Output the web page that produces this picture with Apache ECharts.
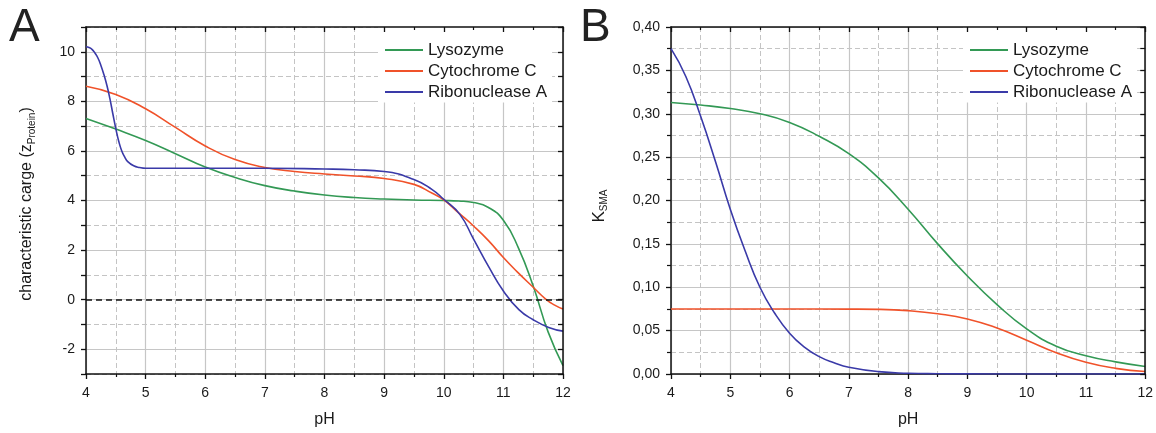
<!DOCTYPE html>
<html>
<head>
<meta charset="utf-8">
<script src="https://cdn.jsdelivr.net/npm/echarts@6/dist/echarts.min.js"></script>
<style>
html,body{margin:0;padding:0;background:#fff;}
#c{width:1156px;height:433px;}
</style>
</head>
<body>
<div id="c"></div>
<script>
// ---------- DATA ----------
const seriesNames = ['Lysozyme', 'Cytochrome C', 'Ribonuclease A'];
const colors = ['#339955', '#f0522a', '#3a3aa8'];

// Panel A: characteristic charge vs pH
const phA_lys = [4, 4.5, 5, 5.5, 6, 6.5, 7, 7.5, 8, 8.5, 9, 9.5, 10, 10.25, 10.5, 10.75, 11, 11.25, 11.5, 11.75, 12];
const zA_lys  = [7.31, 6.88, 6.42, 5.89, 5.35, 4.93, 4.6, 4.38, 4.22, 4.12, 4.06, 4.02, 4.0, 3.98, 3.92, 3.72, 3.2, 2.1, 0.55, -1.3, -2.66];

const phA_cyt = [4, 4.5, 5, 5.5, 6, 6.5, 7, 7.5, 8, 8.5, 9, 9.5, 9.8, 10, 10.25, 10.5, 10.75, 11, 11.25, 11.5, 11.72, 11.86, 12];
const zA_cyt  = [8.61, 8.28, 7.7, 6.95, 6.2, 5.65, 5.33, 5.17, 5.07, 4.99, 4.89, 4.65, 4.3, 4.03, 3.5, 2.97, 2.38, 1.7, 1.08, 0.5, 0.0, -0.22, -0.38];

const phA_rib = [4, 4.05, 4.1, 4.15, 4.2, 4.25, 4.3, 4.35, 4.4, 4.45, 4.5, 4.55, 4.6, 4.65, 4.7, 4.8, 4.9, 5, 6, 7, 8, 8.5, 9, 9.5, 9.8, 10, 10.27, 10.5, 10.76, 11, 11.26, 11.5, 11.76, 12];
const zA_rib  = [10.2, 10.17, 10.1, 9.95, 9.75, 9.45, 9.08, 8.65, 8.12, 7.5, 6.9, 6.38, 6.0, 5.75, 5.57, 5.4, 5.33, 5.3, 5.3, 5.3, 5.27, 5.24, 5.17, 4.85, 4.45, 4.05, 3.44, 2.44, 1.3, 0.35, -0.4, -0.81, -1.12, -1.27];

// Panel B: K_SMA vs pH
const phB_lys = [4, 4.5, 5, 5.5, 6, 6.5, 7, 7.5, 8, 8.5, 9, 9.5, 10, 10.5, 11, 11.5, 12];
const kB_lys  = [0.313, 0.310, 0.306, 0.300, 0.290, 0.274, 0.254, 0.226, 0.190, 0.150, 0.113, 0.080, 0.052, 0.032, 0.021, 0.014, 0.0087];

const phB_cyt = [4, 5, 6, 7, 7.5, 8, 8.5, 9, 9.5, 10, 10.5, 11, 11.5, 12];
const kB_cyt  = [0.075, 0.075, 0.075, 0.0748, 0.0745, 0.073, 0.0695, 0.0635, 0.053, 0.039, 0.0246, 0.0135, 0.0065, 0.0028];

const phB_rib = [4, 4.25, 4.5, 4.75, 5, 5.25, 5.5, 5.75, 6, 6.25, 6.5, 6.75, 7, 7.5, 8, 8.5, 9, 10, 11, 12];
const kB_rib  = [0.375, 0.343, 0.297, 0.245, 0.19, 0.142, 0.10, 0.07, 0.047, 0.031, 0.020, 0.013, 0.0078, 0.0027, 0.0009, 0.0003, 0.0001, 0, 0, 0];

// ticks
const xTickMin = 4, xTickMax = 12;
const yA_min = -3, yA_max = 11;
const yB_min = 0, yB_max = 0.4;

// ---------- CHART ----------
const FONT = 'Liberation Sans, Arial, sans-serif';
const zip = (a, b) => a.map((v, i) => [v, b[i]]);
const chart = echarts.init(document.getElementById('c'), null, {renderer: 'canvas'});

const majorGrid = '#c6c6c6';
const minorGrid = '#c4c4c4';
const axisBlack = '#111';

function xMain(grid) {
  return {
    type: 'value', gridIndex: grid, min: xTickMin, max: xTickMax, interval: 1, position: 'bottom',
    axisLine: {show: true, onZero: false, lineStyle: {color: axisBlack, width: 1.5}},
    axisTick: {show: true, length: 5, lineStyle: {color: axisBlack, width: 1.3}},
    minorTick: {show: true, splitNumber: 2, length: 3, lineStyle: {color: axisBlack, width: 1.2}},
    axisLabel: {fontSize: 14, margin: 12, color: '#1a1a1a', fontFamily: FONT},
    splitLine: {show: true, lineStyle: {color: majorGrid, width: 1.2}},
    minorSplitLine: {show: true, lineStyle: {color: minorGrid, width: 1, type: [5, 3]}},
    name: 'pH', nameLocation: 'middle', nameGap: 38,
    nameTextStyle: {fontSize: 16, color: '#1a1a1a', fontFamily: FONT}
  };
}
function xMirror(grid) {
  return {
    type: 'value', gridIndex: grid, min: xTickMin, max: xTickMax, interval: 1, position: 'top', z: 10,
    axisLine: {show: true, onZero: false, lineStyle: {color: axisBlack, width: 1.5}},
    axisTick: {show: true, inside: true, length: 5, lineStyle: {color: axisBlack, width: 1.3}},
    minorTick: {show: true, splitNumber: 2, length: 3, lineStyle: {color: axisBlack, width: 1.2}},
    axisLabel: {show: false}, splitLine: {show: false}
  };
}

const option = {
  animation: false,
  backgroundColor: '#fff',
  grid: [
    {left: 86, top: 27, width: 477, height: 351},
    {left: 671, top: 27, width: 477, height: 351}
  ],
  xAxis: [xMain(0), xMirror(0), xMain(1), xMirror(1)],
  yAxis: [
    { // 0: panel A main (solid at even)
      type: 'value', gridIndex: 0, min: yA_min, max: yA_max, interval: 1, position: 'left',
      axisLine: {show: true, onZero: false, lineStyle: {color: axisBlack, width: 1.5}},
      axisTick: {show: true, length: 5, lineStyle: {color: axisBlack, width: 1.3}},
      axisLabel: {fontSize: 14, margin: 11, color: '#1a1a1a', fontFamily: FONT,
        formatter: v => (Math.abs(Math.round(v)) % 2 === 0 ? String(Math.round(v)) : '')},
      splitLine: {show: true, lineStyle: {color: ['rgba(0,0,0,0)', majorGrid], width: 1.2}}
    },
    { // 1: panel A dashed at odd
      type: 'value', gridIndex: 0, min: yA_min, max: yA_max, interval: 1, position: 'left',
      axisLine: {show: false}, axisTick: {show: false}, axisLabel: {show: false},
      splitLine: {show: true, lineStyle: {color: [minorGrid, 'rgba(0,0,0,0)'], width: 1, type: [5, 3]}}
    },
    { // 2: panel A right mirror
      type: 'value', gridIndex: 0, min: yA_min, max: yA_max, interval: 1, position: 'right', z: 10,
      axisLine: {show: true, onZero: false, lineStyle: {color: axisBlack, width: 1.5}},
      axisTick: {show: true, inside: true, length: 5, lineStyle: {color: axisBlack, width: 1.3}},
      axisLabel: {show: false}, splitLine: {show: false}
    },
    { // 3: panel B main
      type: 'value', gridIndex: 1, min: yB_min, max: yB_max, interval: 0.05, position: 'left',
      axisLine: {show: true, onZero: false, lineStyle: {color: axisBlack, width: 1.5}},
      axisTick: {show: true, length: 5, lineStyle: {color: axisBlack, width: 1.3}},
      minorTick: {show: true, splitNumber: 2, length: 4, lineStyle: {color: axisBlack, width: 1.2}},
      axisLabel: {fontSize: 14, margin: 11, color: '#1a1a1a', fontFamily: FONT,
        formatter: v => v.toFixed(2).replace('.', ',')},
      splitLine: {show: true, lineStyle: {color: majorGrid, width: 1.2}},
      minorSplitLine: {show: true, lineStyle: {color: minorGrid, width: 1, type: [5, 3]}}
    },
    { // 4: panel B right mirror
      type: 'value', gridIndex: 1, min: yB_min, max: yB_max, interval: 0.05, position: 'right', z: 10,
      axisLine: {show: true, onZero: false, lineStyle: {color: axisBlack, width: 1.5}},
      axisTick: {show: true, inside: true, length: 5, lineStyle: {color: axisBlack, width: 1.3}},
      minorTick: {show: true, splitNumber: 2, length: 5, lineStyle: {color: axisBlack, width: 1.2}},
      axisLabel: {show: false}, splitLine: {show: false}
    }
  ],
  legend: [
    {
      orient: 'vertical', left: 378, top: 27, padding: [12.5, 5, 0, 7], itemGap: 0,
      itemWidth: 38, itemHeight: 2, icon: 'rect', backgroundColor: '#fff',
      textStyle: {fontSize: 17, lineHeight: 21, color: '#1a1a1a', fontFamily: FONT},
      data: seriesNames, selectedMode: false
    },
    {
      orient: 'vertical', left: 963, top: 27, padding: [12.5, 5, 0, 7], itemGap: 0,
      itemWidth: 38, itemHeight: 2, icon: 'rect', backgroundColor: '#fff',
      textStyle: {fontSize: 17, lineHeight: 21, color: '#1a1a1a', fontFamily: FONT},
      data: seriesNames, selectedMode: false
    }
  ],
  graphic: [
    {type: 'text', left: 9, top: 5, style: {text: 'A', fontSize: 46, fontFamily: FONT, fill: '#222'}},
    {type: 'text', left: 580, top: 5, style: {text: 'B', fontSize: 46, fontFamily: FONT, fill: '#222'}},
    {type: 'text', x: 27, y: 204, rotation: Math.PI / 2,
      style: {text: '{a|characteristic carge (z}{s|Protein}{a|)}', align: 'center', verticalAlign: 'middle',
        rich: {
          a: {fontSize: 16, lineHeight: 20, verticalAlign: 'middle', fill: '#1a1a1a', fontFamily: FONT},
          s: {fontSize: 10, lineHeight: 10, verticalAlign: 'bottom', fill: '#1a1a1a', fontFamily: FONT}
        }}},
    {type: 'text', x: 599, y: 206, rotation: Math.PI / 2,
      style: {text: '{a|K}{s|SMA}', align: 'center', verticalAlign: 'middle',
        rich: {
          a: {fontSize: 17, lineHeight: 20, verticalAlign: 'middle', fill: '#1a1a1a', fontFamily: FONT},
          s: {fontSize: 10, lineHeight: 10, verticalAlign: 'bottom', fill: '#1a1a1a', fontFamily: FONT}
        }}}
  ],
  series: []
};

const dataA = [zip(phA_lys, zA_lys), zip(phA_cyt, zA_cyt), zip(phA_rib, zA_rib)];
const dataB = [zip(phB_lys, kB_lys), zip(phB_cyt, kB_cyt), zip(phB_rib, kB_rib)];

dataA.forEach((d, i) => {
  const s = {
    name: seriesNames[i], type: 'line', xAxisIndex: 0, yAxisIndex: 0, data: d,
    showSymbol: false, smooth: 0.5,
    lineStyle: {color: colors[i], width: 1.6}, itemStyle: {color: colors[i]}
  };
  if (i === 0) {
    s.markLine = {silent: true, symbol: ['none', 'none'], label: {show: false},
      lineStyle: {color: '#111', type: [6, 4], width: 1.6}, data: [{yAxis: 0}]};
  }
  option.series.push(s);
});
dataB.forEach((d, i) => {
  option.series.push({
    name: seriesNames[i], type: 'line', xAxisIndex: 2, yAxisIndex: 3, data: d,
    showSymbol: false, smooth: 0.5,
    lineStyle: {color: colors[i], width: 1.6}, itemStyle: {color: colors[i]}
  });
});

chart.setOption(option);
</script>
</body>
</html>
